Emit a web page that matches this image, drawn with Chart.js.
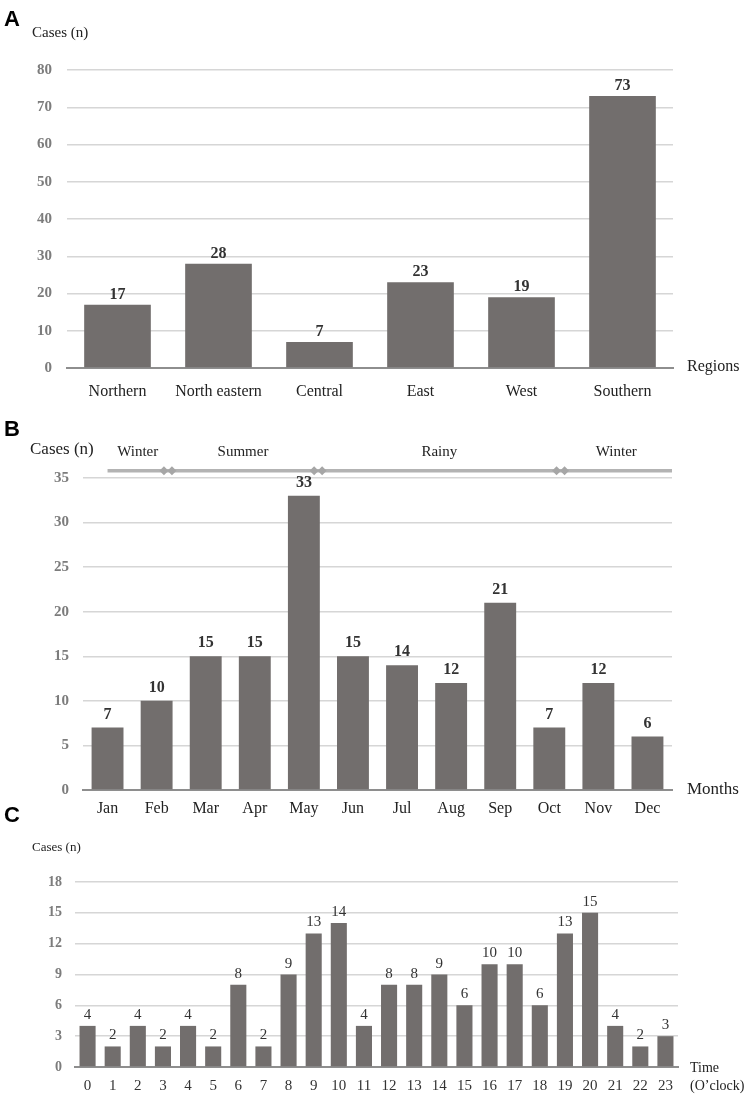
<!DOCTYPE html>
<html>
<head>
<meta charset="utf-8">
<title>Cases by region, month and hour</title>
<script src="https://cdn.jsdelivr.net/npm/chart.js@4.4.0/dist/chart.umd.min.js"></script>
<style>
  body { margin: 0; background: #fff; width: 750px; height: 1098px; position: relative; overflow: hidden; }
  .panel { position: absolute; left: 0; width: 750px; }
  .tag { position: absolute; left: 4px; font: bold 22px "Liberation Sans", Arial, sans-serif; color: #000; line-height: 1; }
</style>
</head>
<body>
<div class="panel" style="top:0;height:410px"><canvas id="chartA" width="750" height="410"></canvas></div>
<div class="panel" style="top:410px;height:410px"><canvas id="chartB" width="750" height="410"></canvas></div>
<div class="panel" style="top:820px;height:278px"><canvas id="chartC" width="750" height="278"></canvas></div>
<div class="tag" style="top:8px">A</div>
<div class="tag" style="top:418px">B</div>
<div class="tag" style="top:804px">C</div>

<script>
const regions = ["Northern", "North eastern", "Central", "East", "West", "Southern"];
const regionCases = [17, 28, 7, 23, 19, 73];

const months = ["Jan", "Feb", "Mar", "Apr", "May", "Jun", "Jul", "Aug", "Sep", "Oct", "Nov", "Dec"];
const monthCases = [7, 10, 15, 15, 33, 15, 14, 12, 21, 7, 12, 6];

// season band above panel B, breaks given in month-index units
const seasonNames = ["Winter", "Summer", "Rainy", "Winter"];
const seasonBreaks = [0, 1.23, 4.29, 9.23, 11.5];
const seasonLevel = 35.8;

const hours = ["0", "1", "2", "3", "4", "5", "6", "7", "8", "9", "10", "11",
  "12", "13", "14", "15", "16", "17", "18", "19", "20", "21", "22", "23"];
const hourCases = [4, 2, 4, 2, 4, 2, 8, 2, 9, 13, 14, 4, 8, 8, 9, 6, 10, 10, 6, 13, 15, 4, 2, 3];

const yTicksA = { max: 80, step: 10 };
const yTicksB = { max: 35, step: 5 };
const yTicksC = { max: 18, step: 3 };

const SERIF = '"Liberation Serif", "Times New Roman", serif';
const BAR = "#726e6d";
const GRID = "#d6d6d6";
const AXIS = "#8e8e8e";

const valueLabels = (font, color, gap) => ({
  id: "valueLabels",
  afterDatasetsDraw(chart) {
    const ctx = chart.ctx;
    const values = chart.data.datasets[0].data;
    ctx.save();
    ctx.font = font;
    ctx.fillStyle = color;
    ctx.textAlign = "center";
    ctx.textBaseline = "alphabetic";
    chart.getDatasetMeta(0).data.forEach((bar, i) => {
      ctx.fillText(String(values[i]), bar.x, bar.y - gap);
    });
    ctx.restore();
  },
});

// free text around the plot (axis titles)
const sideText = (items) => ({
  id: "sideText",
  afterDraw(chart) {
    const ctx = chart.ctx;
    const area = chart.chartArea;
    ctx.save();
    items.forEach((t) => {
      ctx.font = t.font;
      ctx.fillStyle = t.color || "#222";
      ctx.textAlign = "left";
      ctx.textBaseline = "middle";
      const x = t.fromRight ? area.right + t.dx : t.dx;
      const y = t.fromBottom ? area.bottom + t.dy : t.dy;
      ctx.fillText(t.text, x, y);
    });
    ctx.restore();
  },
});

const seasonBand = {
  id: "seasonBand",
  afterDraw(chart) {
    const ctx = chart.ctx;
    const xs = chart.scales.x;
    const y = chart.scales.y.getPixelForValue(seasonLevel);
    const px = seasonBreaks.map((b) => xs.getPixelForValue(b));
    ctx.save();
    ctx.strokeStyle = "#b3b3b3";
    ctx.lineWidth = 3.5;
    ctx.beginPath();
    ctx.moveTo(px[0], y);
    ctx.lineTo(px[px.length - 1], y);
    ctx.stroke();
    ctx.fillStyle = "#a6a6a6";
    px.slice(1, -1).forEach((x) => {
      [-4, 4].forEach((off) => {
        const cx = x + off;
        ctx.beginPath();
        ctx.moveTo(cx, y - 4.5);
        ctx.lineTo(cx + 4.5, y);
        ctx.lineTo(cx, y + 4.5);
        ctx.lineTo(cx - 4.5, y);
        ctx.closePath();
        ctx.fill();
      });
    });
    ctx.font = "15px " + SERIF;
    ctx.fillStyle = "#222";
    ctx.textAlign = "center";
    ctx.textBaseline = "middle";
    seasonNames.forEach((name, i) => {
      const mid = (px[i] + px[i + 1]) / 2;
      ctx.fillText(name, mid, y - 19);
    });
    ctx.restore();
  },
};

const makeChart = (id, labels, values, cfg) => {
  const ctx = document.getElementById(id).getContext("2d");
  return new Chart(ctx, {
    type: "bar",
    data: {
      labels: labels,
      datasets: [
        {
          data: values,
          backgroundColor: BAR,
          borderWidth: 0,
          categoryPercentage: 1,
          barPercentage: cfg.barPct,
        },
      ],
    },
    options: {
      responsive: false,
      animation: false,
      events: [],
      layout: { padding: cfg.padding },
      plugins: { legend: { display: false }, tooltip: { enabled: false } },
      scales: {
        x: {
          grid: { display: false, drawTicks: false },
          border: { color: AXIS, width: 2 },
          ticks: {
            color: cfg.xColor,
            font: { family: SERIF, size: cfg.xSize, weight: cfg.xWeight },
            padding: cfg.xPad,
            maxRotation: 0,
            autoSkip: false,
          },
          afterFit: (s) => { s.height = cfg.xHeight; },
        },
        y: {
          min: 0,
          max: cfg.yTicks.max,
          grid: { color: GRID, lineWidth: 1.5, drawTicks: false },
          border: { display: false },
          ticks: {
            stepSize: cfg.yTicks.step,
            color: "#7c7c7c",
            font: { family: SERIF, size: cfg.ySize, weight: "bold" },
            padding: cfg.yPad,
          },
          afterFit: (s) => { s.width = cfg.yWidth; },
        },
      },
    },
    plugins: cfg.plugins,
  });
};

document.addEventListener("DOMContentLoaded", () => {
  makeChart("chartA", regions, regionCases, {
    barPct: 0.66,
    padding: { top: 70, right: 77, bottom: 0, left: 0 },
    yWidth: 67, yPad: 15, ySize: 15,
    xHeight: 42, xPad: 14, xSize: 16, xWeight: "normal", xColor: "#222",
    yTicks: yTicksA,
    plugins: [
      valueLabels("bold 16px " + SERIF, "#333", 6),
      sideText([
        { text: "Cases (n)", font: "15px " + SERIF, dx: 32, dy: 33 },
        { text: "Regions", font: "16px " + SERIF, fromRight: true, dx: 14, fromBottom: true, dy: -1 },
      ]),
    ],
  });

  makeChart("chartB", months, monthCases, {
    barPct: 0.65,
    padding: { top: 68, right: 78, bottom: 0, left: 0 },
    yWidth: 83, yPad: 14, ySize: 15,
    xHeight: 30, xPad: 9, xSize: 16, xWeight: "normal", xColor: "#222",
    yTicks: yTicksB,
    plugins: [
      valueLabels("bold 16px " + SERIF, "#333", 9),
      seasonBand,
      sideText([
        { text: "Cases (n)", font: "17px " + SERIF, dx: 30, dy: 40 },
        { text: "Months", font: "17px " + SERIF, fromRight: true, dx: 15, fromBottom: true, dy: 0 },
      ]),
    ],
  });

  makeChart("chartC", hours, hourCases, {
    barPct: 0.64,
    padding: { top: 62, right: 72, bottom: 0, left: 0 },
    yWidth: 75, yPad: 13, ySize: 14,
    xHeight: 31, xPad: 10, xSize: 15, xWeight: "normal", xColor: "#333",
    yTicks: yTicksC,
    plugins: [
      valueLabels("15px " + SERIF, "#333", 7),
      sideText([
        { text: "Cases (n)", font: "13px " + SERIF, dx: 32, dy: 28 },
        { text: "Time", font: "14px " + SERIF, fromRight: true, dx: 12, fromBottom: true, dy: 1 },
        { text: "(O\u2019clock)", font: "14px " + SERIF, fromRight: true, dx: 12, fromBottom: true, dy: 19 },
      ]),
    ],
  });
});
</script>
</body>
</html>
